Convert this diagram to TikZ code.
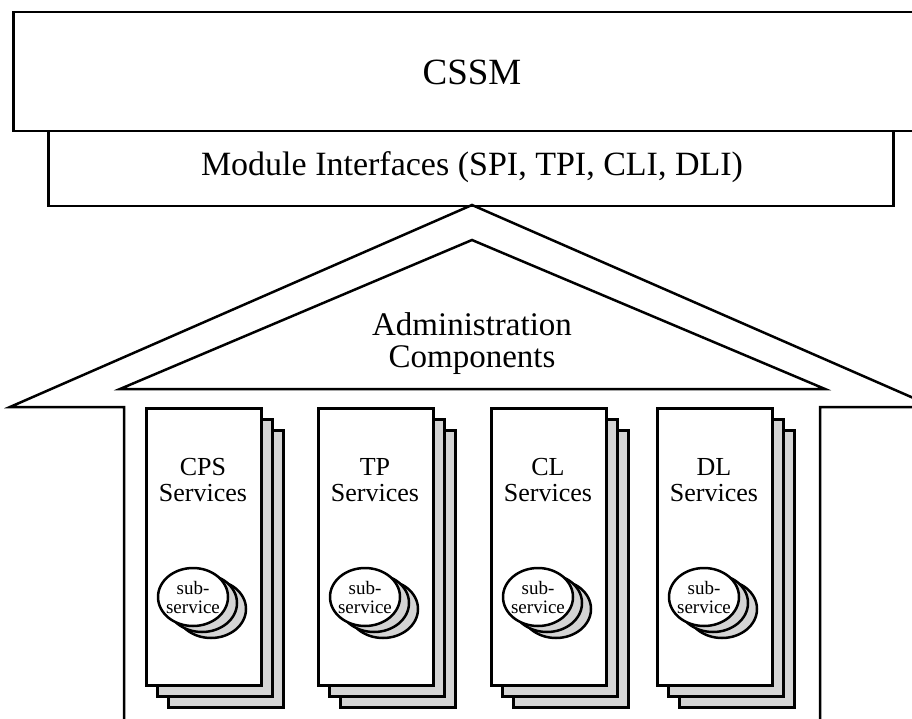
\documentclass[tikz,border=0pt]{standalone}
\usepackage{fontspec}
\setmainfont{Liberation Serif}
\usetikzlibrary{shapes.geometric}
\definecolor{shadegray}{HTML}{D4D4D4}
\begin{document}
\begin{tikzpicture}[x=1pt,y=-1pt,
  outline/.style={draw=black,line width=2.5pt,line join=miter},
  sheet/.style={outline,fill=white,rectangle,inner sep=0pt,anchor=north west},
  backsheet/.style={sheet,fill=shadegray},
  disc/.style={outline,fill=white,ellipse,inner sep=0pt,minimum width=70pt,minimum height=58pt},
  backdisc/.style={disc,fill=shadegray},
  bigtext/.style={font=\fontsize{37}{40}\selectfont},
  midtext/.style={font=\fontsize{34}{36}\selectfont},
  roottext/.style={font=\fontsize{33}{32}\selectfont,align=center},
  svctext/.style={font=\fontsize{26}{26}\selectfont,align=center},
  subtext/.style={font=\fontsize{19}{19}\selectfont,align=center,inner sep=0pt}]
\useasboundingbox (0,0) rectangle (912,719);
\clip (0,0) rectangle (912,719);

% CSSM layer (runs off the right edge)
\node[sheet,minimum width=940pt,minimum height=119pt] (cssm) at (12,11) {};
\node[bigtext] (cssmlabel) at (472,72) {CSSM};

% module interface layer
\node[sheet,minimum width=845pt,minimum height=75pt] (mif) at (47,130) {};
\node[midtext] (miflabel) at (472,167) {Module Interfaces (SPI, TPI, CLI, DLI)};

% roof and walls of the house
\coordinate (apex) at (472,205);
\draw[outline] (124,719) -- (124,407) -- (10,407) -- (apex) -- (934,407) -- (820,407) -- (820,719);
\draw[outline] (120,389) -- (472,240) -- (825,389) -- cycle;
\node[roottext] (admin) at (472,344) {Administration\\Components};

% service pillars, each a stack of three sheets with a stack of sub-services
\foreach \x/\name/\lbl in {145/cps/CPS,317/tp/TP,490/cl/CL,656/dl/DL}{
  \node[backsheet,minimum width=115pt,minimum height=277pt] (\name-b2) at (\x+22,429) {};
  \node[backsheet,minimum width=115pt,minimum height=277pt] (\name-b1) at (\x+11,418) {};
  \node[sheet,minimum width=115pt,minimum height=277pt] (\name) at (\x,407) {};
  \node[svctext] (\name-label) at (\x+58,480) {\lbl\\Services};
  \node[backdisc] (\name-d2) at (\x+66,609) {};
  \node[backdisc] (\name-d1) at (\x+57,603) {};
  \node[disc] (\name-d0) at (\x+48,597) {};
  \node[subtext] (\name-sub) at (\name-d0) {sub-\\service};
}
\end{tikzpicture}
\end{document}
